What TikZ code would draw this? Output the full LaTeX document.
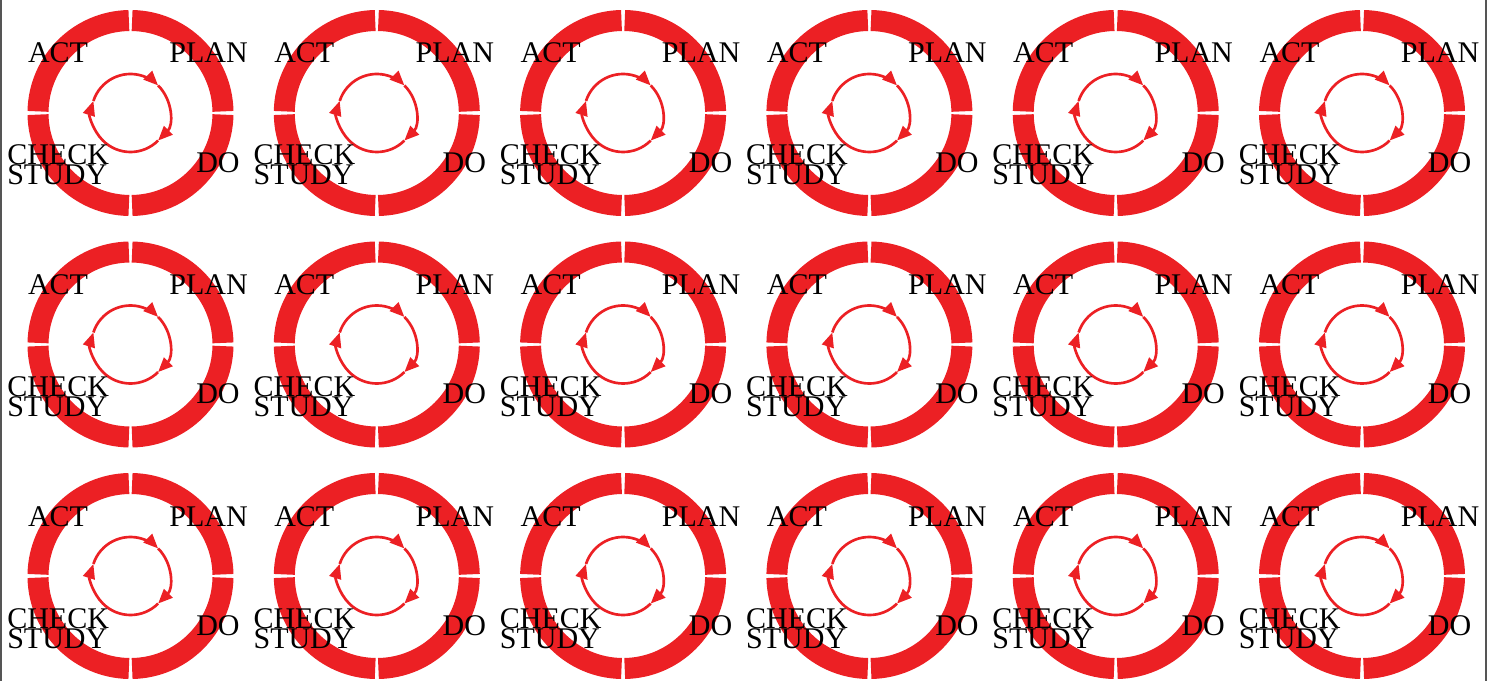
\documentclass[tikz,border=0pt]{standalone}
\usepackage{fontspec}
\setmainfont{Liberation Serif}
\usetikzlibrary{arrows.meta}
\definecolor{pdcared}{RGB}{236,32,36}
\definecolor{framegray}{RGB}{85,85,85}
\tikzset{
  ring/.style={draw=pdcared,line width=15.75pt},
  cycle/.style={draw=pdcared,line width=2pt,-{Triangle[length=11pt,width=9pt]}},
  lbl/.style={inner sep=0pt,font=\fontsize{22.5pt}{26pt}\selectfont}
}
\begin{document}
\begin{tikzpicture}[x=0.75pt,y=0.75pt,yscale=-1,xscale=1]
\useasboundingbox (0,0) rectangle (1494,681);
\draw[framegray,line width=1.8pt] (1,0) -- (1,681);
\draw[framegray,line width=1.8pt] (1486,0) -- (1486,681);
\foreach \i in {0,...,5}{
  \foreach \j in {0,1,2}{
    \coordinate (c\i\j) at ({130.5+246.3*\i},{113+231.5*\j});
    % outer ring, four quarters
    \foreach \a in {0,90,180,270}
      \draw[ring] (c\i\j) ++({\a+1}:92.5) arc[start angle={\a+1}, end angle={\a+89}, radius=92.5];
    % inner cycle arrows
    \draw[cycle] (c\i\j) ++(-162:39) arc[start angle=-162, end angle=-45, radius=39];
    \draw[cycle] (c\i\j) ++(-45:39) arc[start angle=-45, end angle=45, radius=39];
    \draw[cycle] (c\i\j) ++(45:39) arc[start angle=45, end angle=198, radius=39];
    % labels
    \path (c\i\j) ++(-72.5,-50) node[lbl,anchor=base] (act\i\j) {ACT};
    \path (c\i\j) ++(78,-50) node[lbl,anchor=base] (plan\i\j) {PLAN};
    \path (c\i\j) ++(-123.5,52) node[lbl,anchor=base west] (check\i\j) {CHECK};
    \path (c\i\j) ++(-123.5,72) node[lbl,anchor=base west] (study\i\j) {STUDY};
    \path (c\i\j) ++(87.5,59) node[lbl,anchor=base] (do\i\j) {DO};
  }
}
\end{tikzpicture}
\end{document}
